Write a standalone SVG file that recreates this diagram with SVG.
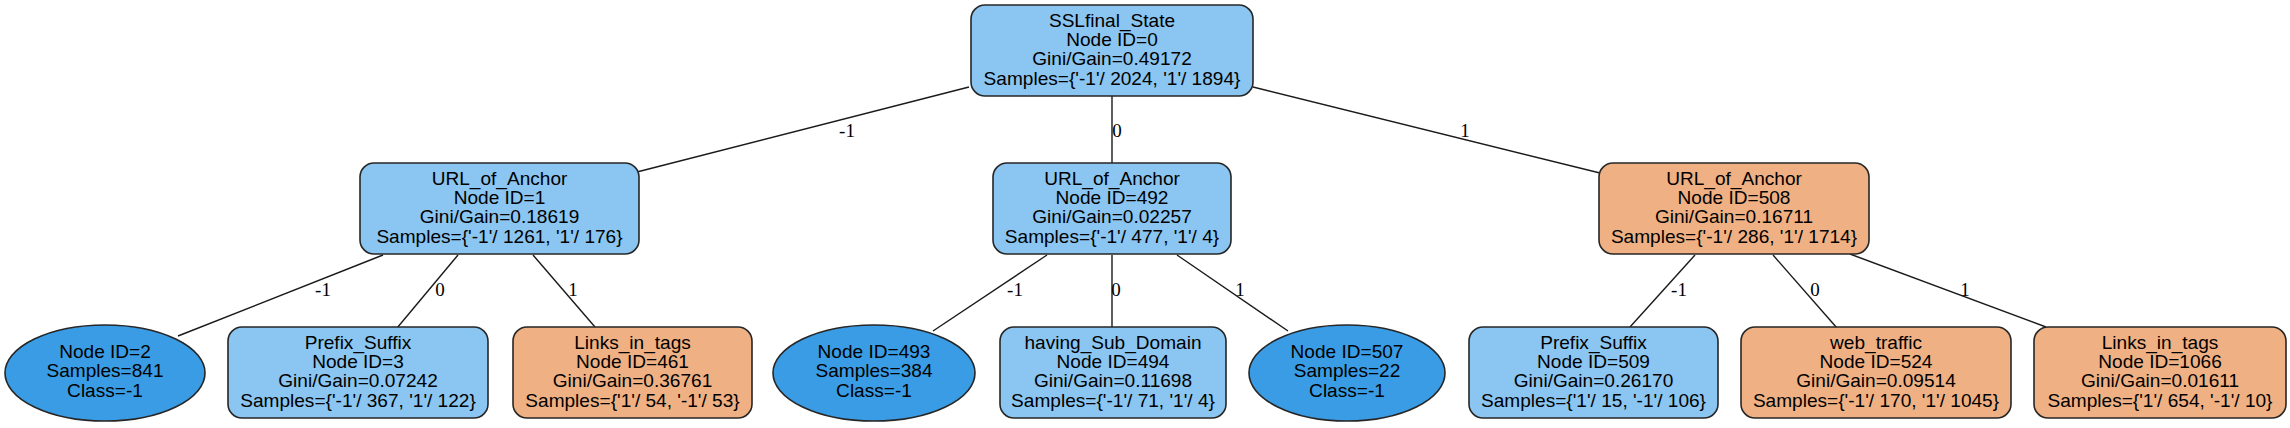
<svg xmlns="http://www.w3.org/2000/svg" width="2290" height="428" viewBox="0 0 2290 428">
<style>
.box{stroke:#262626;stroke-width:1.6}
.blue{fill:#8bc5f1}
.orange{fill:#efb083}
.leaf{fill:#399ce5;stroke:#262626;stroke-width:1.6}
.t{font-family:"Liberation Sans",Arial,sans-serif;font-size:17.5px;fill:#000;text-anchor:middle}
.e{stroke:#1a1a1a;stroke-width:1.4;fill:none}
.el{font-family:"Liberation Serif","Times New Roman",serif;font-size:19px;fill:#000;text-anchor:middle}
</style>
<rect width="2290" height="428" fill="#fff"/>
<g id="connectors">
<line class="e" x1="969" y1="87" x2="633" y2="173"/>
<line class="e" x1="1112" y1="96" x2="1112" y2="163"/>
<line class="e" x1="1253" y1="87" x2="1600" y2="173"/>
<line class="e" x1="383" y1="255" x2="178" y2="336"/>
<line class="e" x1="458" y1="255" x2="397" y2="328"/>
<line class="e" x1="533" y1="255" x2="595" y2="327"/>
<line class="e" x1="1047" y1="255" x2="933" y2="331"/>
<line class="e" x1="1112" y1="255" x2="1112" y2="327"/>
<line class="e" x1="1177" y1="255" x2="1288" y2="331"/>
<line class="e" x1="1695" y1="255" x2="1630" y2="327"/>
<line class="e" x1="1773" y1="255" x2="1837" y2="328"/>
<line class="e" x1="1850" y1="254" x2="2046" y2="327"/>
<text class="el" x="847" y="137">-1</text>
<text class="el" x="1117" y="137">0</text>
<text class="el" x="1465" y="137">1</text>
<text class="el" x="323" y="296">-1</text>
<text class="el" x="440" y="296">0</text>
<text class="el" x="573" y="296">1</text>
<text class="el" x="1015" y="296">-1</text>
<text class="el" x="1116" y="296">0</text>
<text class="el" x="1240" y="296">1</text>
<text class="el" x="1679" y="296">-1</text>
<text class="el" x="1815" y="296">0</text>
<text class="el" x="1965" y="296">1</text>
</g>
<g id="node0">
<rect class="box blue" x="971" y="5" width="282" height="91" rx="14"/>
<text class="t" transform="translate(1112 50.5) scale(1.09 1)"><tspan x="0" y="-23.9">SSLfinal_State</tspan><tspan x="0" y="-4.5">Node ID=0</tspan><tspan x="0" y="14.9">Gini/Gain=0.49172</tspan><tspan x="0" y="34.3">Samples={'-1'/ 2024, '1'/ 1894}</tspan></text>
</g>
<g id="node1">
<rect class="box blue" x="360" y="163" width="279" height="91" rx="14"/>
<text class="t" transform="translate(499.5 208.5) scale(1.09 1)"><tspan x="0" y="-23.9">URL_of_Anchor</tspan><tspan x="0" y="-4.5">Node ID=1</tspan><tspan x="0" y="14.9">Gini/Gain=0.18619</tspan><tspan x="0" y="34.3">Samples={'-1'/ 1261, '1'/ 176}</tspan></text>
</g>
<g id="node492">
<rect class="box blue" x="993" y="163" width="238" height="91" rx="14"/>
<text class="t" transform="translate(1112 208.5) scale(1.09 1)"><tspan x="0" y="-23.9">URL_of_Anchor</tspan><tspan x="0" y="-4.5">Node ID=492</tspan><tspan x="0" y="14.9">Gini/Gain=0.02257</tspan><tspan x="0" y="34.3">Samples={'-1'/ 477, '1'/ 4}</tspan></text>
</g>
<g id="node508">
<rect class="box orange" x="1599" y="163" width="270" height="91" rx="14"/>
<text class="t" transform="translate(1734 208.5) scale(1.09 1)"><tspan x="0" y="-23.9">URL_of_Anchor</tspan><tspan x="0" y="-4.5">Node ID=508</tspan><tspan x="0" y="14.9">Gini/Gain=0.16711</tspan><tspan x="0" y="34.3">Samples={'-1'/ 286, '1'/ 1714}</tspan></text>
</g>
<g id="node2">
<ellipse class="leaf" cx="105" cy="373" rx="100" ry="48"/>
<text class="t" transform="translate(105 373) scale(1.09 1)"><tspan x="0" y="-15.1">Node ID=2</tspan><tspan x="0" y="4.3">Samples=841</tspan><tspan x="0" y="23.7">Class=-1</tspan></text>
</g>
<g id="node3">
<rect class="box blue" x="228" y="327" width="260" height="91" rx="14"/>
<text class="t" transform="translate(358 372.5) scale(1.09 1)"><tspan x="0" y="-23.9">Prefix_Suffix</tspan><tspan x="0" y="-4.5">Node ID=3</tspan><tspan x="0" y="14.9">Gini/Gain=0.07242</tspan><tspan x="0" y="34.3">Samples={'-1'/ 367, '1'/ 122}</tspan></text>
</g>
<g id="node461">
<rect class="box orange" x="513" y="327" width="239" height="91" rx="14"/>
<text class="t" transform="translate(632.5 372.5) scale(1.09 1)"><tspan x="0" y="-23.9">Links_in_tags</tspan><tspan x="0" y="-4.5">Node ID=461</tspan><tspan x="0" y="14.9">Gini/Gain=0.36761</tspan><tspan x="0" y="34.3">Samples={'1'/ 54, '-1'/ 53}</tspan></text>
</g>
<g id="node493">
<ellipse class="leaf" cx="874" cy="373" rx="101" ry="48"/>
<text class="t" transform="translate(874 373) scale(1.09 1)"><tspan x="0" y="-15.1">Node ID=493</tspan><tspan x="0" y="4.3">Samples=384</tspan><tspan x="0" y="23.7">Class=-1</tspan></text>
</g>
<g id="node494">
<rect class="box blue" x="1000" y="327" width="226" height="91" rx="14"/>
<text class="t" transform="translate(1113 372.5) scale(1.09 1)"><tspan x="0" y="-23.9">having_Sub_Domain</tspan><tspan x="0" y="-4.5">Node ID=494</tspan><tspan x="0" y="14.9">Gini/Gain=0.11698</tspan><tspan x="0" y="34.3">Samples={'-1'/ 71, '1'/ 4}</tspan></text>
</g>
<g id="node507">
<ellipse class="leaf" cx="1347" cy="373" rx="98" ry="48"/>
<text class="t" transform="translate(1347 373) scale(1.09 1)"><tspan x="0" y="-15.1">Node ID=507</tspan><tspan x="0" y="4.3">Samples=22</tspan><tspan x="0" y="23.7">Class=-1</tspan></text>
</g>
<g id="node509">
<rect class="box blue" x="1469" y="327" width="249" height="91" rx="14"/>
<text class="t" transform="translate(1593.5 372.5) scale(1.09 1)"><tspan x="0" y="-23.9">Prefix_Suffix</tspan><tspan x="0" y="-4.5">Node ID=509</tspan><tspan x="0" y="14.9">Gini/Gain=0.26170</tspan><tspan x="0" y="34.3">Samples={'1'/ 15, '-1'/ 106}</tspan></text>
</g>
<g id="node524">
<rect class="box orange" x="1741" y="327" width="270" height="91" rx="14"/>
<text class="t" transform="translate(1876 372.5) scale(1.09 1)"><tspan x="0" y="-23.9">web_traffic</tspan><tspan x="0" y="-4.5">Node ID=524</tspan><tspan x="0" y="14.9">Gini/Gain=0.09514</tspan><tspan x="0" y="34.3">Samples={'-1'/ 170, '1'/ 1045}</tspan></text>
</g>
<g id="node1066">
<rect class="box orange" x="2034" y="327" width="252" height="91" rx="14"/>
<text class="t" transform="translate(2160 372.5) scale(1.09 1)"><tspan x="0" y="-23.9">Links_in_tags</tspan><tspan x="0" y="-4.5">Node ID=1066</tspan><tspan x="0" y="14.9">Gini/Gain=0.01611</tspan><tspan x="0" y="34.3">Samples={'1'/ 654, '-1'/ 10}</tspan></text>
</g>
</svg>
